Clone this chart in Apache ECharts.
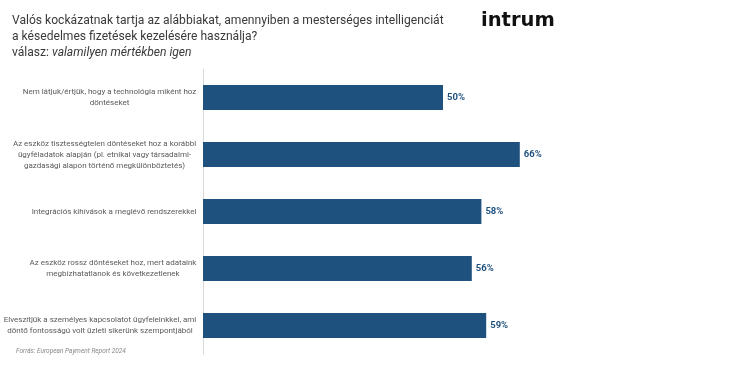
<!DOCTYPE html>
<html><head><meta charset="utf-8">
<script src="https://cdn.jsdelivr.net/npm/echarts@6/dist/echarts.min.js"></script>
<style>html,body{margin:0;padding:0;background:#fff}#c{width:730px;height:365px}</style>
</head><body><div id="c"></div>
<script>
const categories = [
  "Nem látjuk/értjük, hogy a technológia miként hoz\ndöntéseket",
  "Az eszköz tisztességtelen döntéseket hoz a korábbi\nügyféladatok alapján (pl. etnikai vagy társadalmi-\ngazdasági alapon történő megkülönböztetés)",
  "Integrációs kihívások a meglévő rendszerekkel",
  "Az eszköz rossz döntéseket hoz, mert adataink\nmegbízhatatlanok és következetlenek",
  "Elveszítjük a személyes kapcsolatot ügyfeleinkkel, ami\ndöntő fontosságú volt üzleti sikerünk szempontjából"
];
const values = [50, 66, 58, 56, 59];
const titleLines = [
  "Valós kockázatnak tartja az alábbiakat, amennyiben a mesterséges intelligenciát",
  "a késedelmes fizetések kezelésére használja?"
];
const answerPrefix = "válasz: ";
const answerText = "valamilyen mértékben igen";
const sourceText = "Forrás: European Payment Report 2024";
const logoText = "intrum";

const labelFont = "Roboto";
const labelSize = 8;
const cv = document.createElement('canvas').getContext('2d');
cv.font = labelSize + 'px ' + labelFont;
const rich = {};
categories.forEach((c, i) => {
  const w = Math.max(...c.split('\n').map(l => cv.measureText(l).width));
  rich['l' + i] = {width: Math.ceil(w) + 1, align: 'center', fontFamily: labelFont, fontSize: labelSize, color: '#5a5a5a', lineHeight: 11};
});

const chart = echarts.init(document.getElementById('c'));
chart.setOption({
  animation: false,
  title: {
    left: 12, top: 13, padding: 0,
    text: '{a|' + titleLines[0] + '}\n{a|' + titleLines[1] + '}\n{a|' + answerPrefix + '}{b|' + answerText + '}',
    textStyle: {
      fontWeight: 'normal',
      rich: {
        a: {fontFamily: 'Roboto', fontSize: 12.1, fontWeight: 'normal', color: '#3a3a3a', lineHeight: 16},
        b: {fontFamily: 'Roboto', fontSize: 12.1, fontWeight: 'normal', color: '#3a3a3a', fontStyle: 'italic', lineHeight: 16}
      }
    }
  },
  graphic: [
    {type: 'text', left: 481, top: 11, style: {text: logoText, fontFamily: 'DejaVu Sans', fontWeight: 'bold', fontSize: 19.5, fill: '#111'}},
    {type: 'text', left: 16, top: 348, style: {text: sourceText, fontFamily: 'Roboto', fontStyle: 'italic', fontSize: 6.5, fill: '#888'}}
  ],
  grid: {left: 201, top: 69, height: 285, width: 482, containLabel: false},
  xAxis: {type: 'value', min: 0, max: 100, show: false},
  yAxis: {
    type: 'category', inverse: true, data: categories,
    axisLine: {show: true, lineStyle: {color: '#d9d9d9', width: 1}},
    axisTick: {show: false},
    axisLabel: {
      margin: 6,
      formatter: (v, idx) => v.split('\n').map(l => '{l' + idx + '|' + l + '}').join('\n'),
      rich: rich
    }
  },
  series: [{
    type: 'bar', data: values, barWidth: 25,
    itemStyle: {color: '#1f517e'},
    label: {show: true, position: 'right', distance: 4, formatter: '{c}%', color: '#1f517e', fontWeight: 'bold', fontSize: 9.5, fontFamily: 'Roboto'}
  }]
});
</script></body></html>
